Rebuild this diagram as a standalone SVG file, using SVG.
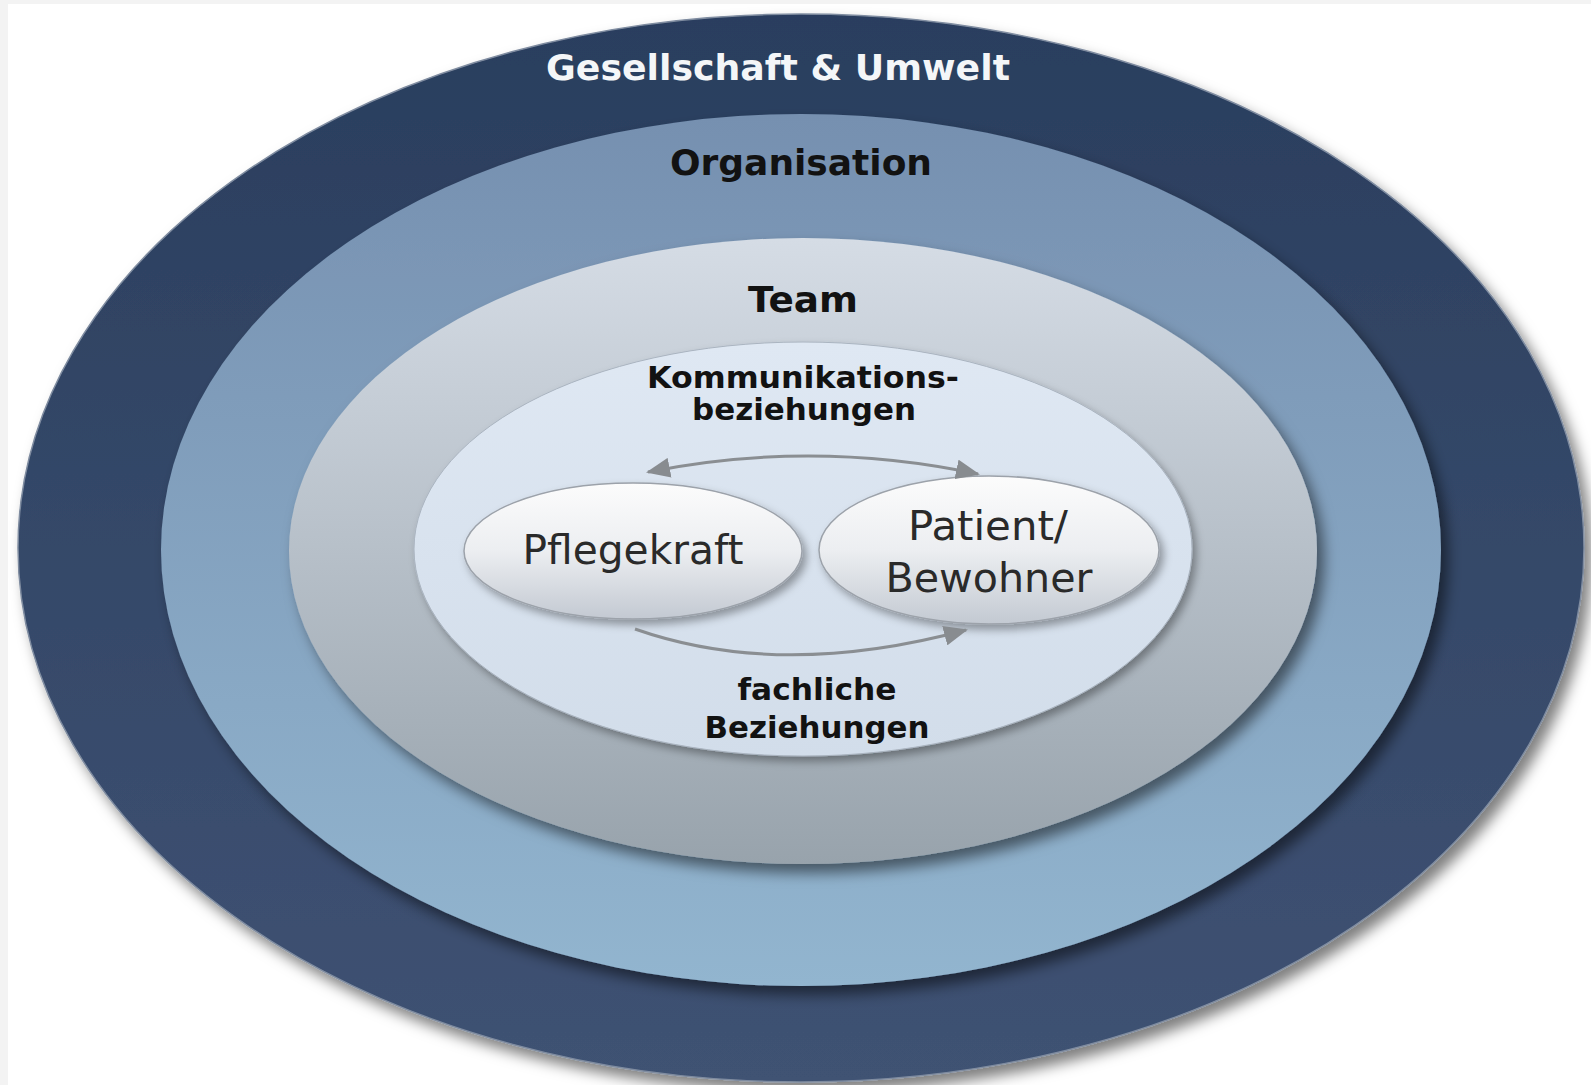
<svg xmlns="http://www.w3.org/2000/svg" width="1591" height="1085" viewBox="0 0 1591 1085">
<defs>
<linearGradient id="gOuter" x1="0" y1="0" x2="0" y2="1"><stop offset="0" stop-color="#2a3e5e"/><stop offset="1" stop-color="#3f5273"/></linearGradient>
<linearGradient id="gOrg" x1="0" y1="0" x2="0" y2="1"><stop offset="0" stop-color="#7690b0"/><stop offset="1" stop-color="#92b5cf"/></linearGradient>
<linearGradient id="gTeam" x1="0" y1="0" x2="0" y2="1"><stop offset="0" stop-color="#d5dce5"/><stop offset="1" stop-color="#98a3ac"/></linearGradient>
<linearGradient id="gInner" x1="0" y1="0" x2="0" y2="1"><stop offset="0" stop-color="#dfe8f3"/><stop offset="1" stop-color="#d2ddea"/></linearGradient>
<linearGradient id="gNode" x1="0" y1="0" x2="0" y2="1"><stop offset="0" stop-color="#fcfcfc"/><stop offset="0.5" stop-color="#eceef1"/><stop offset="1" stop-color="#c3c9d2"/></linearGradient>
<filter id="shadow" x="-10%" y="-10%" width="125%" height="130%"><feDropShadow dx="7" dy="9" stdDeviation="7" flood-color="#000" flood-opacity="0.5"/></filter>
<filter id="shadowS" x="-10%" y="-10%" width="125%" height="130%"><feDropShadow dx="4" dy="5" stdDeviation="4" flood-color="#000" flood-opacity="0.35"/></filter>
<marker id="ah" viewBox="0 0 12 10" refX="11" refY="5" markerWidth="8" markerHeight="6.7" markerUnits="strokeWidth" orient="auto-start-reverse"><path d="M0,0 L12,5 L0,10 z" fill="#888c90"/></marker>
</defs>
<style>
.lbl{font-family:"DejaVu Sans","Verdana",sans-serif;font-weight:bold;text-anchor:middle;fill:#121212}
.big{font-size:36px}
.mid{font-size:30px}
.node{font-family:"DejaVu Sans","Verdana",sans-serif;font-size:40px;text-anchor:middle;fill:#2a2a2a}
.conn{fill:none;stroke:#8a8e92;stroke-width:3}
</style>
<rect x="0" y="0" width="1591" height="1085" fill="#f3f3f3"/>
<rect x="8" y="4" width="1583" height="1081" fill="#ffffff"/>
<g id="gesellschaft">
<ellipse cx="801" cy="548" rx="783" ry="534" fill="url(#gOuter)" stroke="#7f8ca0" stroke-width="1.5" filter="url(#shadow)"/>
<text class="lbl big" x="778" y="80" style="fill:#f4f6f8" textLength="464" lengthAdjust="spacingAndGlyphs">Gesellschaft &amp; Umwelt</text>
</g>
<g id="organisation">
<ellipse cx="801" cy="550" rx="640" ry="436" fill="url(#gOrg)" filter="url(#shadow)"/>
<text class="lbl big" x="801" y="175" textLength="262" lengthAdjust="spacingAndGlyphs">Organisation</text>
</g>
<g id="team">
<ellipse cx="803" cy="551" rx="514" ry="313" fill="url(#gTeam)" filter="url(#shadow)"/>
<text class="lbl big" x="803" y="312" textLength="110" lengthAdjust="spacingAndGlyphs">Team</text>
</g>
<g id="beziehungen">
<ellipse cx="803" cy="549" rx="389" ry="207" fill="url(#gInner)" stroke="#aab4c0" stroke-width="1" filter="url(#shadowS)"/>
<text class="lbl mid" x="803" y="388" textLength="312" lengthAdjust="spacingAndGlyphs">Kommunikations-</text>
<text class="lbl mid" x="804" y="420" textLength="224" lengthAdjust="spacingAndGlyphs">beziehungen</text>
<text class="lbl mid" x="817" y="700" textLength="159" lengthAdjust="spacingAndGlyphs">fachliche</text>
<text class="lbl mid" x="817" y="738" textLength="225" lengthAdjust="spacingAndGlyphs">Beziehungen</text>
</g>
<g id="pflegekraft">
<ellipse cx="633" cy="551" rx="169" ry="68" fill="url(#gNode)" stroke="#9ca2aa" stroke-width="1.5" filter="url(#shadowS)"/>
<text class="node" x="633" y="564" textLength="221" lengthAdjust="spacingAndGlyphs">Pflegekraft</text>
</g>
<g id="patient">
<ellipse cx="989" cy="550" rx="170" ry="74" fill="url(#gNode)" stroke="#9ca2aa" stroke-width="1.5" filter="url(#shadowS)"/>
<text class="node" x="988" y="540" textLength="160" lengthAdjust="spacingAndGlyphs">Patient/</text>
<text class="node" x="989" y="592" textLength="207" lengthAdjust="spacingAndGlyphs">Bewohner</text>
</g>
<g id="connectors">
<path class="conn" d="M648 472 Q 813 439 978 474" marker-start="url(#ah)" marker-end="url(#ah)"/>
<path class="conn" d="M635 629 Q 780 680 966 630" marker-end="url(#ah)"/>
</g>
</svg>
